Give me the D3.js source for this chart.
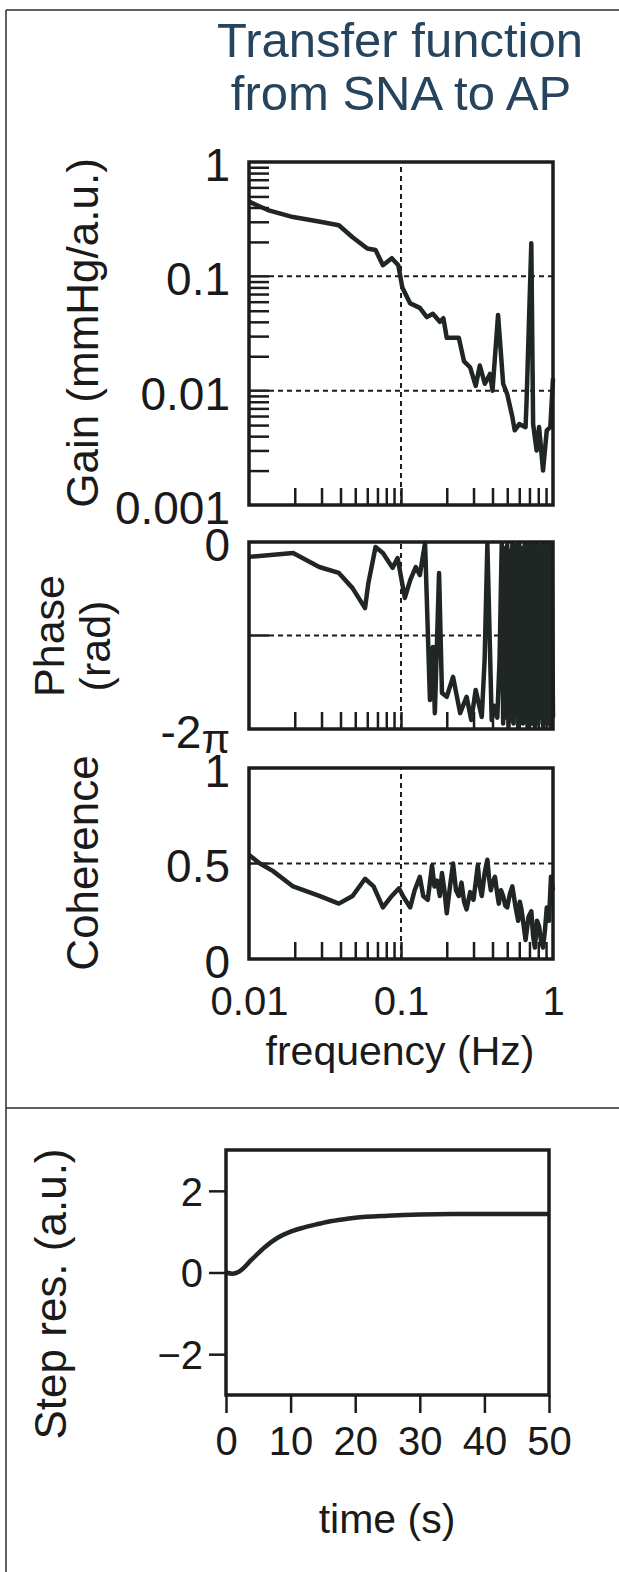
<!DOCTYPE html>
<meta charset="utf-8">
<script src="https://cdn.jsdelivr.net/npm/d3@7"></script>
<style>
  body { margin: 0; background: #fff; }
  text { font-family: "Liberation Sans", Arial, sans-serif; fill: #1a1a1a; }
  .frame { fill: none; stroke: #1c1c1c; stroke-width: 3.5; }
  .grid { stroke: #1c1c1c; stroke-width: 2; stroke-dasharray: 5,4; }
  .tick line { stroke: #1c1c1c; stroke-width: 2.5; }
  .trace { fill: none; stroke: #1f2624; stroke-width: 4.5; stroke-linejoin: round; }
  .border { stroke: #2b2b2b; stroke-width: 1.5; }
</style>
<div id="chart"></div>
<script>

// gain (mmHg/a.u.) against frequency (Hz)
const gainFreq = [0.01,0.0133,0.0195,0.0294,0.039,0.048,0.060,0.068,0.076,0.087,0.096,0.102,0.115,0.133,0.148,0.162,0.18,0.19,0.20,0.24,0.26,0.285,0.31,0.33,0.356,0.385,0.40,0.435,0.47,0.50,0.54,0.56,0.60,0.66,0.67,0.72,0.74,0.78,0.81,0.86,0.91,0.96,1.0];
const gainVal  = [0.45,0.38,0.33,0.30,0.28,0.22,0.175,0.17,0.125,0.144,0.125,0.08,0.058,0.053,0.044,0.047,0.040,0.043,0.029,0.029,0.018,0.016,0.011,0.0166,0.0115,0.014,0.010,0.046,0.0115,0.0093,0.0059,0.0045,0.0051,0.0048,0.008,0.195,0.0051,0.003,0.0048,0.002,0.0045,0.0048,0.0128];

// phase (rad)
const phaseFreq = [0.01,0.0195,0.029,0.039,0.048,0.058,0.061,0.068,0.076,0.088,0.095,0.106,0.115,0.125,0.133,0.144,0.155,0.162,0.167,0.178,0.186,0.20,0.22,0.245,0.27,0.29,0.31,0.34,0.355,0.37,0.395,0.41,0.43,0.445,
  0.46,0.47,0.48,0.49,0.50,0.51,0.52,0.53,0.54,0.55,0.56,0.57,0.58,0.59,0.60,0.61,0.62,0.635,0.65,0.66,0.67,0.68,0.69,0.70,0.71,0.72,0.73,0.74,0.75,0.76,0.77,0.78,0.79,0.80,0.815,0.83,0.845,0.86,0.875,0.89,0.905,0.92,0.935,0.95,0.965,0.98,1.0];
const phaseVal  = [-0.50,-0.37,-0.84,-1.04,-1.55,-2.22,-1.38,-0.17,-0.37,-0.87,-0.54,-1.88,-1.28,-0.84,-1.11,-0.03,-5.31,-3.53,-5.75,-1.04,-5.07,-5.2,-4.53,-5.75,-5.2,-5.98,-4.97,-5.88,-3.96,-0.05,-5.98,-5.5,-5.9,-3.96,
  -0.05,-6.1,-0.2,-5.9,-0.1,-6.2,-0.3,-6.0,-0.05,-6.1,-0.15,-5.8,-0.1,-6.2,-0.05,-6.0,-0.2,-6.1,-0.1,-5.9,-0.05,-6.2,-0.3,-6.0,-0.1,-6.1,-0.05,-5.8,-0.2,-6.2,-0.1,-6.0,-0.05,-6.1,-0.2,-5.9,-0.1,-6.2,-0.05,-6.0,-0.3,-6.1,-0.1,-1.6,-6.2,-0.05,-5.9];

// coherence
const cohFreq = [0.01,0.0118,0.0144,0.0195,0.029,0.039,0.048,0.058,0.066,0.076,0.087,0.097,0.103,0.115,0.123,0.133,0.14,
  0.15,0.155,0.16,0.166,0.173,0.18,0.186,0.193,0.20,0.21,0.22,0.23,0.24,0.25,0.26,0.27,0.285,0.30,0.32,0.33,0.34,0.355,0.37,0.38,0.39,0.40,0.415,0.43,0.44,0.455,0.47,0.485,0.50,0.52,0.54,0.565,0.59,0.605,0.62,0.64,0.66,0.69,0.72,0.74,0.76,0.785,0.81,0.835,0.86,0.885,0.91,0.94,0.97,1.0];
const cohVal  = [0.545,0.50,0.46,0.38,0.33,0.29,0.33,0.42,0.38,0.27,0.33,0.37,0.33,0.27,0.36,0.43,0.33,
  0.31,0.40,0.49,0.38,0.41,0.33,0.45,0.36,0.24,0.38,0.50,0.36,0.33,0.40,0.30,0.26,0.35,0.31,0.49,0.38,0.33,0.45,0.52,0.42,0.36,0.40,0.43,0.34,0.29,0.36,0.33,0.28,0.27,0.34,0.38,0.28,0.20,0.30,0.26,0.18,0.10,0.22,0.25,0.12,0.06,0.20,0.17,0.09,0.06,0.15,0.27,0.20,0.43,0.36];

// step response (a.u.) against time (s)
const stepTime = [0,1,2,4,6,8,10,12,14,16,18,20,25,30,35,40,45,50];
const stepVal  = [0,-0.03,0.02,0.32,0.62,0.85,1.0,1.1,1.18,1.25,1.30,1.34,1.39,1.42,1.43,1.43,1.43,1.43];

// ticks and labels
const freqMinor = [0.02,0.03,0.04,0.05,0.06,0.07,0.08,0.09,0.1,0.2,0.3,0.4,0.5,0.6,0.7,0.8,0.9];
const freqTicks = [0.01, 0.1, 1];
const freqTickLabels = ["0.01", "0.1", "1"];
const gainTicks = [1, 0.1, 0.01, 0.001];
const gainTickLabels = ["1", "0.1", "0.01", "0.001"];
const gainMinor = [0.002,0.003,0.004,0.005,0.006,0.007,0.008,0.009,0.02,0.03,0.04,0.05,0.06,0.07,0.08,0.09,0.2,0.3,0.4,0.5,0.6,0.7,0.8,0.9];
const phaseTicks = [0, -2 * Math.PI];
const phaseTickLabels = ["0", "-2\u03c0"];
const cohTicks = [1, 0.5, 0];
const cohTickLabels = ["1", "0.5", "0"];
const stepXTicks = [0, 10, 20, 30, 40, 50];
const stepYTicks = [2, 0, -2];
const stepYLabels = ["2", "0", "\u22122"];

const W = 619, H = 1572;
const svg = d3.select("#chart").append("svg")
  .attr("width", W).attr("height", H)
  .style("display", "block");

svg.append("rect").attr("width", W).attr("height", H).attr("fill", "#fff");

// page borders
svg.append("line").attr("class", "border").attr("x1", 6).attr("x2", W).attr("y1", 10).attr("y2", 10);
svg.append("line").attr("class", "border").attr("x1", 6).attr("x2", 6).attr("y1", 10).attr("y2", H);
svg.append("line").attr("class", "border").attr("x1", 6).attr("x2", W).attr("y1", 1108).attr("y2", 1108);

// title
svg.append("text").attr("x", 400).attr("y", 57).attr("text-anchor", "middle")
  .attr("font-size", 49).style("fill", "#27445e").text("Transfer function");
svg.append("text").attr("x", 401).attr("y", 110).attr("text-anchor", "middle")
  .attr("font-size", 49).style("fill", "#27445e").text("from SNA to AP");

const x = d3.scaleLog().domain([0.01, 1]).range([249, 553]);
const yGain = d3.scaleLog().domain([0.001, 1]).range([505, 162]);
const yPhase = d3.scaleLinear().domain([-2 * Math.PI, 0]).range([729, 542]);
const yCoh = d3.scaleLinear().domain([0, 1]).range([959, 768]);

function freqPanel(y, freq, vals, hGrid, tickVals, tickLabels) {
  const g = svg.append("g");
  const [y0, y1] = y.range();

  hGrid.forEach(v => {
    g.append("line").attr("class", "grid")
      .attr("x1", x(0.01) + 20).attr("x2", x(1)).attr("y1", y(v)).attr("y2", y(v));
    g.append("line").attr("class", "grid")
      .style("stroke-dasharray", "none").style("stroke-width", 2.5)
      .attr("x1", x(0.01)).attr("x2", x(0.01) + 20).attr("y1", y(v)).attr("y2", y(v));
  });
  g.append("line").attr("class", "grid")
    .attr("x1", x(0.1)).attr("x2", x(0.1)).attr("y1", y0).attr("y2", y1);

  // inward minor ticks along the bottom
  const bx = g.append("g").attr("transform", `translate(0,${y0})`)
    .call(d3.axisBottom(x).tickValues(freqMinor).tickSize(-17).tickFormat(""));
  bx.select(".domain").remove();

  // y labels
  const ly = g.append("g").attr("transform", `translate(${x(0.01)},0)`)
    .call(d3.axisLeft(y).tickValues(tickVals).tickSize(0).tickPadding(19)
      .tickFormat((d, i) => tickLabels[i]));
  ly.select(".domain").remove();
  ly.selectAll("text").attr("font-size", 46).attr("dy", "0.4em")
    .style("font-family", "'Liberation Sans', Arial, sans-serif").style("fill", "#1a1a1a");

  g.append("path").datum(d3.zip(freq, vals)).attr("class", "trace")
    .attr("d", d3.line().x(d => x(d[0])).y(d => y(d[1])));

  g.append("rect").attr("class", "frame")
    .attr("x", x(0.01)).attr("y", y1)
    .attr("width", x(1) - x(0.01)).attr("height", y0 - y1);
  return g;
}

// gain panel
const gGain = freqPanel(yGain, gainFreq, gainVal, [0.1, 0.01], gainTicks, gainTickLabels);
const lm = gGain.append("g").attr("transform", `translate(${x(0.01)},0)`)
  .call(d3.axisLeft(yGain).tickValues(gainMinor).tickSize(-20).tickFormat(""));
lm.select(".domain").remove();

// phase panel, the pi sits a little lower and smaller
const gPhase = freqPanel(yPhase, phaseFreq, phaseVal, [-Math.PI], phaseTicks, phaseTickLabels);
gPhase.selectAll("text").filter(function() { return this.textContent.includes("\u03c0"); })
  .each(function() {
    const t = d3.select(this).text("-2");
    t.append("tspan").attr("dy", "0.12em").attr("font-size", "0.9em").text("\u03c0");
  });

// coherence panel
const gCoh = freqPanel(yCoh, cohFreq, cohVal, [0.5], cohTicks, cohTickLabels);
const fx = gCoh.append("g").attr("transform", `translate(0,${yCoh(0)})`)
  .call(d3.axisBottom(x).tickValues(freqTicks).tickSize(0).tickPadding(28)
    .tickFormat((d, i) => freqTickLabels[i]));
fx.select(".domain").remove();
fx.selectAll("text").attr("font-size", 40)
  .style("font-family", "'Liberation Sans', Arial, sans-serif").style("fill", "#1a1a1a");

svg.append("text").attr("x", 400).attr("y", 1065).attr("text-anchor", "middle")
  .attr("font-size", 41).text("frequency (Hz)");

// rotated axis titles
function vlabel(txt, cx, cy, size) {
  svg.append("text").attr("transform", `translate(${cx},${cy}) rotate(-90)`)
    .attr("text-anchor", "middle").attr("font-size", size).text(txt);
}
vlabel("Gain (mmHg/a.u.)", 98, 333, 44);
vlabel("Phase", 64, 636, 43);
vlabel("(rad)", 110, 646, 43);
vlabel("Coherence", 98, 863, 44);
vlabel("Step res. (a.u.)", 66, 1294, 44);

// step response panel
const xs = d3.scaleLinear().domain([0, 50]).range([226, 549]);
const ys = d3.scaleLinear().domain([-3, 3]).range([1395, 1150]);

const sx = svg.append("g").attr("transform", `translate(0,${ys(-3)})`)
  .call(d3.axisBottom(xs).tickValues(stepXTicks).tickSize(18).tickPadding(14));
sx.select(".domain").remove();
sx.selectAll("text").attr("font-size", 40)
  .style("font-family", "'Liberation Sans', Arial, sans-serif").style("fill", "#1a1a1a");

const sy = svg.append("g").attr("transform", `translate(${xs(0)},0)`)
  .call(d3.axisLeft(ys).tickValues(stepYTicks).tickSize(17).tickPadding(6)
    .tickFormat((d, i) => stepYLabels[i]));
sy.select(".domain").remove();
sy.selectAll("text").attr("font-size", 40).attr("dy", "0.36em")
  .style("font-family", "'Liberation Sans', Arial, sans-serif").style("fill", "#1a1a1a");

svg.append("path").datum(d3.zip(stepTime, stepVal)).attr("class", "trace")
  .attr("d", d3.line().curve(d3.curveMonotoneX).x(d => xs(d[0])).y(d => ys(d[1])));

svg.append("rect").attr("class", "frame")
  .attr("x", xs(0)).attr("y", ys(3))
  .attr("width", xs(50) - xs(0)).attr("height", ys(-3) - ys(3));

svg.append("text").attr("x", 387).attr("y", 1533).attr("text-anchor", "middle")
  .attr("font-size", 41).text("time (s)");

</script>
